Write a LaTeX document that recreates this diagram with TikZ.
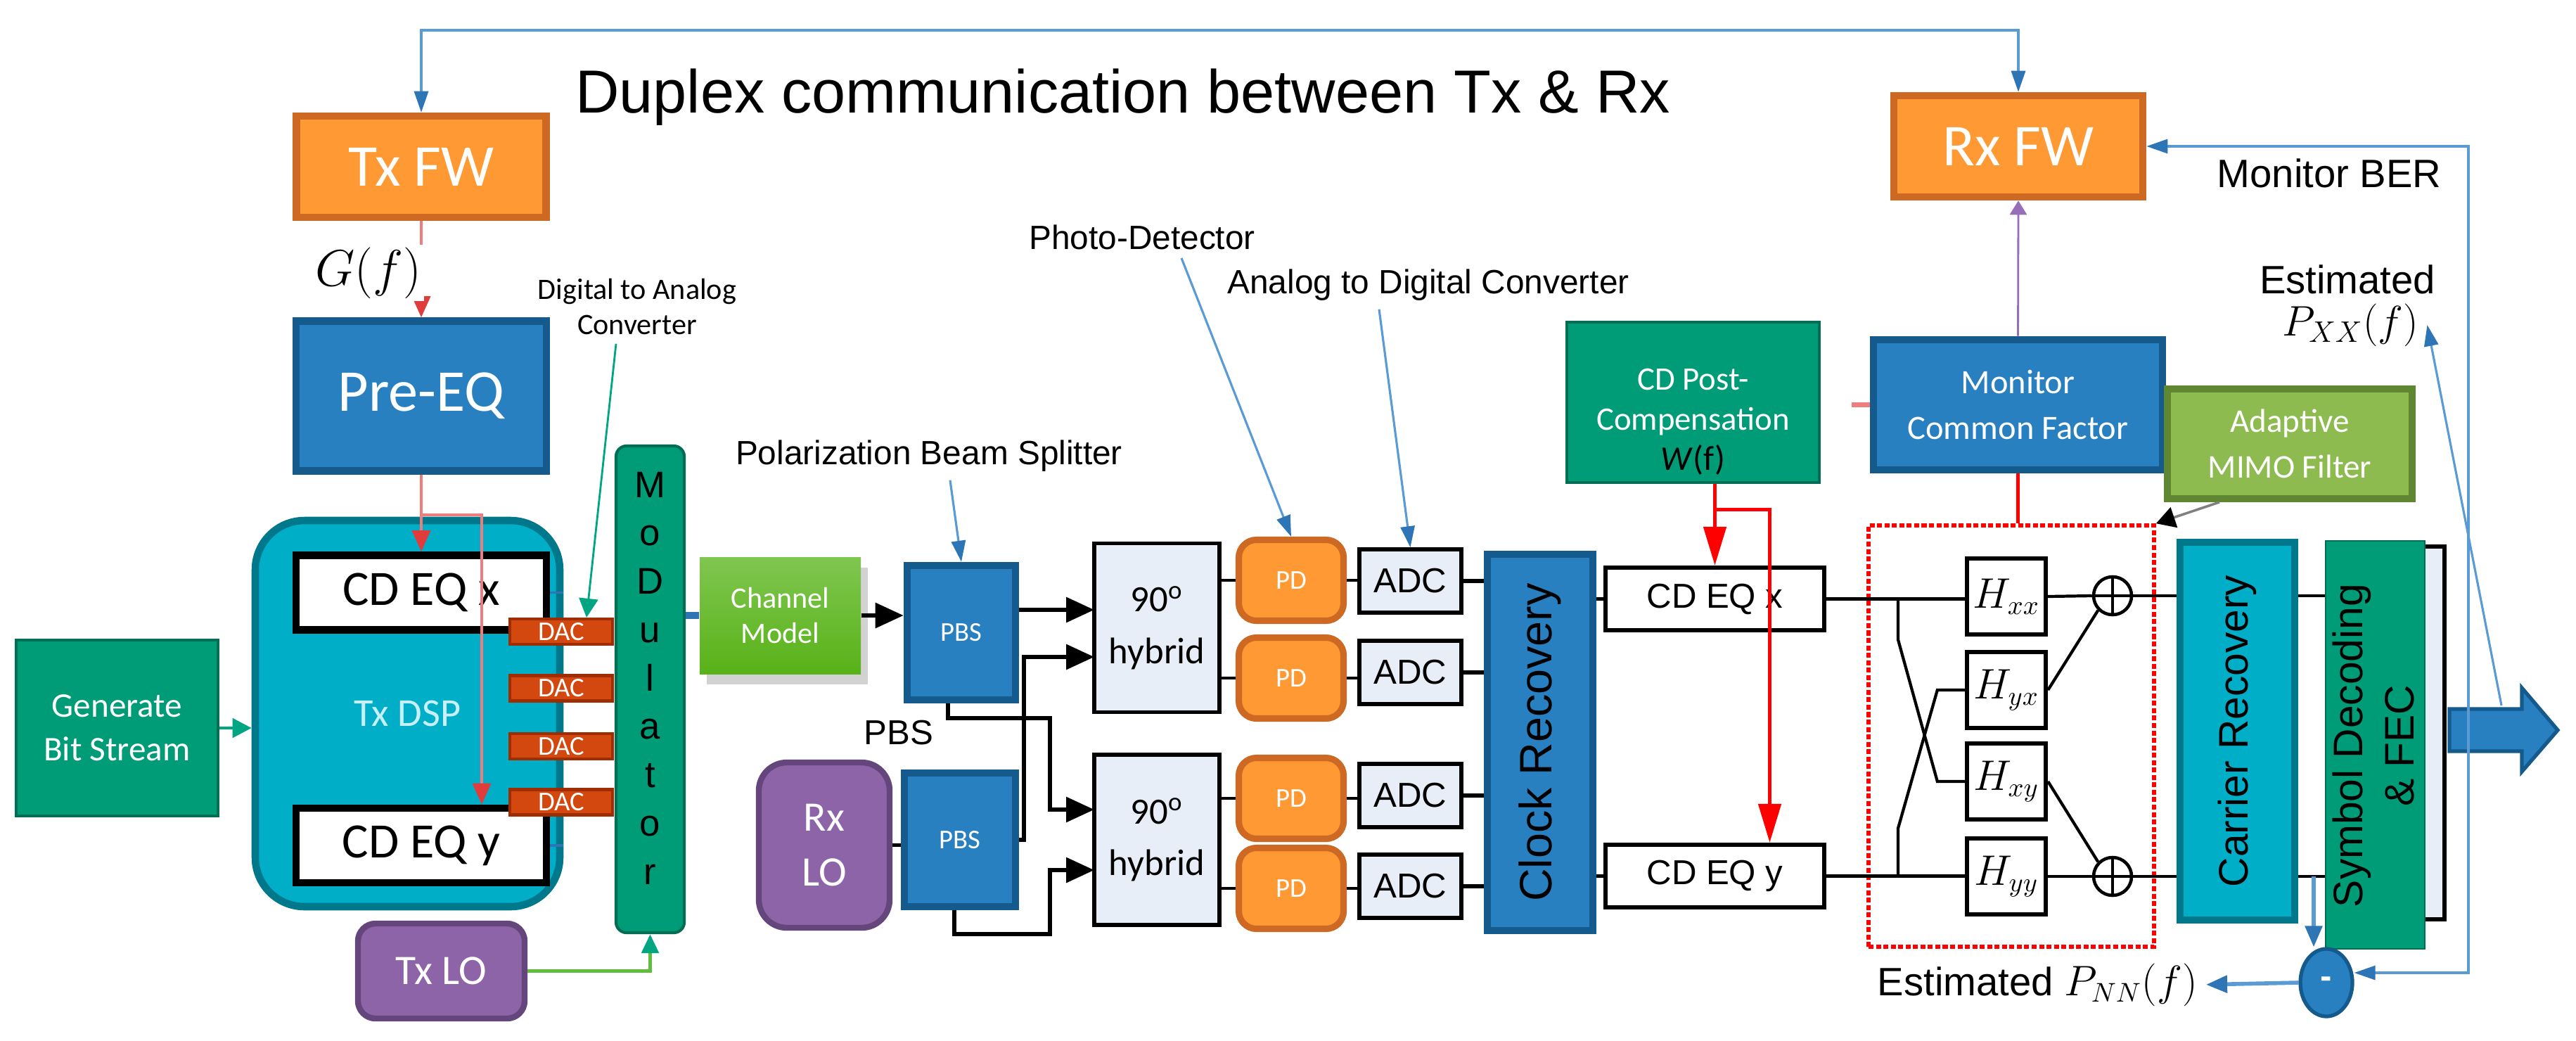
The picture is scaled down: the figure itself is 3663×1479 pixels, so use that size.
\documentclass[tikz,border=0pt]{standalone}
\usepackage{amsmath}
\usepackage{fontspec}
\setmainfont{Liberation Sans}
\newfontfamily\calib{Carlito}
\usetikzlibrary{arrows.meta,positioning,calc,shapes.geometric,shadows}
\definecolor{orfill}{RGB}{255,153,51}
\definecolor{ordraw}{RGB}{205,105,35}
\definecolor{bufill}{RGB}{40,128,193}
\definecolor{budraw}{RGB}{20,90,140}
\definecolor{cyfill}{RGB}{0,174,199}
\definecolor{cydraw}{RGB}{0,120,140}
\definecolor{grfill}{RGB}{0,155,119}
\definecolor{grdraw}{RGB}{0,110,85}
\definecolor{pufill}{RGB}{142,100,168}
\definecolor{pudraw}{RGB}{100,70,125}
\definecolor{dacfill}{RGB}{210,72,15}
\definecolor{dacdraw}{RGB}{160,45,0}
\definecolor{ltfill}{RGB}{232,238,248}
\definecolor{olfill}{RGB}{141,187,79}
\definecolor{oldraw}{RGB}{95,135,50}
\definecolor{chtop}{RGB}{128,198,80}
\definecolor{chbot}{RGB}{88,178,24}
\definecolor{fbblue}{RGB}{91,155,213}
\definecolor{tipblue}{RGB}{46,117,182}
\definecolor{pinkred}{RGB}{238,125,125}
\definecolor{tipred}{RGB}{225,60,60}
\definecolor{tealline}{RGB}{0,165,130}
\definecolor{loline}{RGB}{95,190,60}
\definecolor{dsptext}{RGB}{200,240,250}
\definecolor{purpline}{RGB}{150,110,185}

\begin{document}
\begin{tikzpicture}[x=0.1mm,y=-0.1mm,
  box/.style={draw,inner sep=0pt,align=center},
  orbox/.style={box,fill=orfill,draw=ordraw,line width=3pt,text=white,font=\calib\fontsize{24}{28}\selectfont,minimum width=35.5mm,minimum height=14.4mm},
  bubox/.style={box,fill=bufill,draw=budraw,line width=3pt,text=white},
  cybox/.style={box,fill=cyfill,draw=cydraw,line width=3pt},
  grbox/.style={box,fill=grfill,draw=grdraw,line width=1.2pt,text=white},
  pubox/.style={box,fill=pufill,draw=pudraw,line width=2.4pt,text=white},
  dacbox/.style={box,fill=dacfill,draw=dacdraw,line width=1.2pt,text=white,font=\calib\fontsize{11}{13}\selectfont,minimum width=14.6mm,minimum height=3.6mm},
  txeq/.style={box,fill=white,line width=3pt,font=\calib\fontsize{20}{24}\selectfont,minimum width=35.6mm,minimum height=10.6mm},
  ltbox/.style={box,fill=ltfill,line width=1.6pt},
  pdbox/.style={box,fill=orfill,draw=ordraw,line width=2.6pt,rounded corners=2.5mm,text=white,font=\calib\fontsize{11}{13}\selectfont,minimum width=14.9mm,minimum height=11.5mm},
  adcbox/.style={ltbox,font=\fontsize{14}{17}\selectfont,minimum width=14.5mm,minimum height=9mm},
  hybox/.style={ltbox,font=\calib\fontsize{15}{21}\selectfont,minimum width=17.8mm,minimum height=24mm},
  rxeq/.style={box,fill=white,line width=1.8pt,font=\fontsize{14}{17}\selectfont,minimum width=31.1mm,minimum height=8.9mm},
  hbox/.style={box,fill=white,line width=1.8pt,font=\fontsize{16}{19}\selectfont,minimum width=11.2mm,minimum height=10.8mm},
  sumnode/.style={circle,draw,fill=white,line width=1.3pt,minimum size=5.4mm,inner sep=0pt,
    path picture={\draw[line width=1.3pt] (path picture bounding box.north) -- (path picture bounding box.south)
      (path picture bounding box.west) -- (path picture bounding box.east);}},
  anno/.style={font=\fontsize{13.6}{16}\selectfont},
  bigtext/.style={font=\fontsize{16}{19}\selectfont},
  fbarrow/.style={fbblue,line width=0.9pt,-{Triangle[length=3mm,width=2mm,color=tipblue]}},
  fbthick/.style={fbblue,line width=1.6pt,-{Triangle[length=3mm,width=2.4mm,color=tipblue]}},
  txred/.style={pinkred,line width=1pt,-{Triangle[length=3mm,width=2.6mm,color=tipred]}},
  rxred/.style={red,line width=1.4pt},
  optarrow/.style={line width=1.8pt,-{Triangle[length=4mm,width=3.5mm]}},
  sigline/.style={line width=1.2pt}]
%
\fill[white] (0,0) rectangle (3663,1479);
\useasboundingbox (0,0) rectangle (3663,1479);
%
% transmitter
  \node[orbox] (txfw) at (599,237) {Tx FW};
  \node[bubox,font=\calib\fontsize{24}{28}\selectfont,minimum width=35.6mm,minimum height=21.3mm] (preeq) at (599,563) {Pre-EQ};
  \node[cybox,rounded corners=7mm,minimum width=43.3mm,minimum height=54.9mm,text=dsptext,font=\calib\fontsize{16}{19}\selectfont] (txdsp) at (579.5,1014.5) {Tx DSP};
  \node[txeq] (cdeqtx) at (599,842.5) {CD EQ x};
  \node[txeq] (cdeqty) at (599,1202) {CD EQ y};
  \foreach \i/\y in {1/898,2/978.5,3/1061,4/1140.5}
    \node[dacbox] (dac\i) at (798,\y) {DAC};
  \node[grbox,minimum width=28.7mm,minimum height=25mm,font=\calib\fontsize{14}{17.6}\selectfont] (genbit) at (166.5,1035) {Generate\\Bit Stream};
  \node[grbox,rounded corners=1.5mm,minimum width=9.7mm,minimum height=69.2mm] (mod) at (924.5,980) {};
  \node[align=center,font=\fontsize{15}{19.56}\selectfont] (modtext) at (924.5,964) {M\\o\\D\\u\\l\\a\\t\\o\\r};
  \node[pubox,rounded corners=2.5mm,minimum width=23.7mm,minimum height=13.5mm,font=\calib\fontsize{17}{20}\selectfont] (txlo) at (627.5,1380.5) {Tx LO};
  \node[box,draw=none,top color=chtop,bottom color=chbot,text=white,drop shadow={opacity=0.35,shadow xshift=1mm,shadow yshift=-1.5mm},
    minimum width=22.9mm,minimum height=16.6mm,font=\calib\fontsize{12}{14.2}\selectfont] (chmodel) at (1109.5,875) {Channel\\Model};
%
% receiver front end
  \node[bubox,minimum width=15.4mm,minimum height=19.1mm,font=\calib\fontsize{11}{13}\selectfont] (pbsa) at (1367,899.5) {PBS};
  \node[bubox,minimum width=15.8mm,minimum height=19mm,font=\calib\fontsize{11}{13}\selectfont] (pbsb) at (1365,1194) {PBS};
  \node[font=\fontsize{14}{17}\selectfont] (pbsname) at (1278,1042) {PBS};
  \node[pubox,rounded corners=4mm,minimum width=18.6mm,minimum height=23.5mm,font=\calib\fontsize{17}{22}\selectfont] (rxlo) at (1172,1201.5) {Rx\\LO};
  \node[hybox] (hyba) at (1645,892.5) {90\textsuperscript{o}\\hybrid};
  \node[hybox,minimum height=24.2mm] (hybb) at (1645,1194) {90\textsuperscript{o}\\hybrid};
  \foreach \i/\y in {1/825,2/964,3/1135,4/1263}
    \node[pdbox] (pd\i) at (1836,\y) {PD};
  \foreach \i/\y in {1/826,2/956,3/1131,4/1260}
    \node[adcbox] (adc\i) at (2005.5,\y) {ADC};
  \node[bubox,line width=2.8pt,minimum width=15mm,minimum height=53.5mm] (clock) at (2190,1055.5) {};
  \node[rotate=90,font=\fontsize{18.4}{22}\selectfont] (clocktext) at (clock.center) {Clock Recovery};
%
% receiver DSP
  \node[rxeq] (cdeqrx) at (2438.5,851.5) {CD EQ x};
  \node[rxeq] (cdeqry) at (2438.5,1245.5) {CD EQ y};
  \node[grbox,minimum width=35.9mm,minimum height=22.8mm] (cdpost) at (2407.5,572) {};
  \node[align=center,text=white,font=\calib\fontsize{13.3}{16.2}\selectfont] (cdposttext) at (2407.5,600) {CD Post-\\Compensation\\\textcolor{black}{\fontsize{14}{16.2}\selectfont\textit{W}(f)}};
  \node[bubox,minimum width=41.1mm,minimum height=18.5mm,font=\calib\fontsize{13.8}{18.5}\selectfont] (mcf) at (2869.5,575.5) {Monitor\\Common Factor};
  \node[orbox,minimum width=35.4mm] (rxfw) at (2870,208) {Rx FW};
  \node[box,fill=olfill,draw=oldraw,line width=2.8pt,text=white,minimum width=34.8mm,minimum height=15.6mm,font=\calib\fontsize{13.4}{18.5}\selectfont] (mimo) at (3256,631) {Adaptive\\MIMO Filter};
  \node[draw=red,line width=1.6pt,dash pattern=on 2pt off 1pt,minimum width=40.6mm,minimum height=59.9mm,inner sep=0pt] (mimobank) at (2860,1046.5) {};
  \foreach \n/\s/\y in {hxx/xx/848,hyx/yx/981,hxy/xy/1111,hyy/yy/1246}
    \node[hbox] (\n) at (2853,\y) {$H_{\s}$};
  \node[sumnode] (sum1) at (3004,847) {};
  \node[sumnode] (sum2) at (3004,1246) {};
  \node[cybox,line width=2.8pt,minimum width=16.3mm,minimum height=53.7mm] (carrier) at (3181.5,1039.5) {};
  \node[rotate=90,font=\fontsize{16.7}{20}\selectfont] (carriertext) at (carrier.center) {Carrier Recovery};
  \node[ltbox,minimum width=14.6mm,minimum height=53mm] (symback) at (3403,1042) {};
  \node[grbox,line width=0.8pt,minimum width=14.1mm,minimum height=58mm] (symdec) at (3377.5,1059) {};
  \node[rotate=90,align=center,font=\fontsize{16.7}{21}\selectfont] (symtext) at (3375,1060) {Symbol Decoding\\\& FEC};
  \filldraw[fill=bufill,draw=budraw,line width=1.5pt] (3483,1008) -- (3586,1008) -- (3586,978) -- (3637,1038)
    -- (3586,1097) -- (3586,1068) -- (3483,1068) -- cycle;
  \coordinate (berpt) at (3510,1038);
  \coordinate (fecout) at (3557,1003);
  \node[ellipse,fill=bufill,draw=budraw,line width=1.5pt,minimum width=7.4mm,minimum height=9.6mm,inner sep=0pt,
    text=white,font=\bfseries\fontsize{14}{14}\selectfont] (minus) at (3308,1397) {-};
%
% labels
  \node[anchor=base west,font=\fontsize{24.6}{30}\selectfont] (title) at (806,160) {Duplex communication between Tx \& Rx};
  \node[align=center,font=\calib\fontsize{12}{14.5}\selectfont] (daclbl) at (906,436) {Digital to Analog\\Converter};
  \node[anno] (pdlbl) at (1624,337) {Photo-Detector};
  \node[anno] (adclbl) at (2031,405) {Analog to Digital Converter};
  \node[anno] (pbslbl) at (1321,648) {Polarization Beam Splitter};
  \node[bigtext] (berlbl) at (3312,246) {Monitor BER};
  \node[bigtext] (estxx) at (3338,397) {Estimated};
  \node[font=\fontsize{17}{20}\selectfont] (pxx) at (3342,462) {$P_{XX}(f)$};
  \node[bigtext,anchor=base east] (estnn) at (3137,1415) {Estimated $P_{NN}(f)$};
%
% transmitter connectors
  \coordinate (topline) at (1500,43);
  \draw[fbblue,line width=0.9pt,{Triangle[length=3mm,width=2mm,color=tipblue]}-{Triangle[length=3mm,width=2mm,color=tipblue]}]
    (txfw.north) |- (topline) -| (rxfw.north);
  \draw[txred] (txfw.south) -- (preeq.north);
  \node[fill=white,inner sep=1pt,font=\fontsize{20}{24}\selectfont] (gf) at (524,388) {$G(f)$};
  \draw[txred] (preeq.south) -- (cdeqtx.north);
  \draw[txred] ($(preeq.south)+(0,57)$) -| ([xshift=8.6mm]cdeqty.north);
  \draw[tealline,line width=1.4pt,-{Triangle[length=2.7mm,width=2.7mm]}] (genbit.east) -- (genbit.east -| txdsp.west);
  \draw[tipblue,line width=1pt] (cdeqtx.east) -- (cdeqtx.east -| txdsp.east);
  \draw[tipblue,line width=1pt] (cdeqty.east) -- (cdeqty.east -| txdsp.east);
  \draw[tealline,line width=0.8pt,-{Triangle[length=2.7mm,width=2.7mm]}] ([xshift=-3mm]daclbl.south) -- ([xshift=3.6mm]dac1.north);
  \draw[loline,line width=1.5pt,-{Triangle[length=2.7mm,width=2.4mm,color=tealline]}] (txlo.east) -| (mod.south);
  \draw[tipblue,line width=3pt] (chmodel.west -| mod.east) -- (chmodel.west);
%
% optical front end
  \draw[optarrow] (chmodel.east) -- (chmodel.east -| pbsa.west);
  \draw[line width=1.5pt] (rxlo.east) -- (rxlo.east -| pbsb.west);
  \coordinate (hyaIn1) at (1556,867);
  \coordinate (hyaIn2) at (1556,934);
  \coordinate (hybIn1) at (1556,1151);
  \coordinate (hybIn2) at (1556,1237);
  \draw[optarrow] (hyaIn1 -| pbsa.east) -- (hyaIn1);
  \draw[optarrow] (pbsb.east) -| ($(hyaIn2)+(-100,0)$) -- (hyaIn2);
  \draw[optarrow] ([xshift=-1.9mm]pbsa.south) |- ($(hybIn1)+(-63,-130)$) -- ($(hybIn1)+(-63,0)$) -- (hybIn1);
  \draw[optarrow] ([xshift=-0.8mm]pbsb.south) |- ($(hybIn2)+(-63,91)$) -- ($(hybIn2)+(-63,0)$) -- (hybIn2);
  \foreach \i in {1,2}
    \draw[sigline] (pd\i.west -| hyba.east) -- (pd\i.west);
  \foreach \i in {3,4}
    \draw[sigline] (pd\i.west -| hybb.east) -- (pd\i.west);
  \foreach \i in {1,...,4} {
    \draw[sigline] (pd\i.east) -- (pd\i.east -| adc\i.west);
    \draw[sigline,line width=1.6pt] (adc\i.east) -- (adc\i.east -| clock.west);
  }
  \draw[fbarrow] ([xshift=5.6mm]pdlbl.south) -- (pd1.north);
  \draw[fbarrow] ([xshift=-7mm]adclbl.south) -- (adc1.north);
  \draw[fbarrow] ([xshift=3mm]pbslbl.south) -- (pbsa.north);
%
% receiver DSP connectors
  \draw[sigline] (cdeqrx.west -| clock.east) -- (cdeqrx.west);
  \draw[sigline] (cdeqry.west -| clock.east) -- (cdeqry.west);
  \draw[sigline] (cdeqrx.east) -- (cdeqrx.east -| hxx.west);
  \draw[sigline] (cdeqry.east) -- (cdeqry.east -| hyy.west);
  \coordinate (xsplit) at (2699,851.5);
  \coordinate (ysplit) at (2699,1245.5);
  \draw[sigline] (xsplit) -- ++(0,58) -- ($(hxy.west)+(-39,0)$) -- (hxy.west);
  \draw[sigline] (ysplit) -- ++(0,-68) -- ($(hyx.west)+(-39,0)$) -- (hyx.west);
  \draw[sigline] (hxx.east) -- (sum1.west);
  \draw[sigline] (hyy.east) -- (sum2.west);
  \draw[sigline] (hyx.east) -- (sum1.south west);
  \draw[sigline] (hxy.east) -- (sum2.north west);
  \draw[sigline] (sum1.east) -- (sum1 -| carrier.west);
  \draw[sigline] (sum2.east) -- (sum2 -| carrier.west);
  \draw[sigline] (sum1 -| carrier.east) -- (sum1 -| symdec.west);
  \draw[sigline] (sum2 -| carrier.east) -- (sum2 -| symdec.west);
  \draw[rxred,-{Triangle[length=5.5mm,width=3.2mm]}] (cdeqrx.north |- cdpost.south) -- (cdeqrx.north);
  \draw[rxred,-{Triangle[length=5.5mm,width=3.2mm]}] ($(cdeqrx.north |- cdpost.south)+(0,36)$) -| ([xshift=7.8mm]cdeqry.north);
  \draw[rxred] (mcf.south) -- (mcf.south |- mimobank.north);
  \draw[pinkred,line width=2pt] (mcf.west) -- ++(-26,0);
  \draw[purpline,line width=0.8pt,-{Triangle[length=2mm,width=2.4mm]}] (mcf.north) -- (rxfw.south);
  \draw[gray,line width=1pt,-{Triangle[length=2.7mm,width=3mm,color=black]}] ([xshift=-10mm]mimo.south) -- (mimobank.north east);
%
% monitoring feedback
  \draw[fbarrow] (berpt) |- (rxfw.east);
  \draw[fbarrow] (berpt) |- ([yshift=1.4mm]minus.east);
  \draw[fbarrow] (fecout) -- (pxx.east);
  \coordinate (mintop) at ([xshift=-1.8mm]minus.north);
  \draw[fbthick] (mintop |- sum2) -- (mintop);
  \draw[fbthick] (minus.west) -- (estnn.east);
\end{tikzpicture}
\end{document}
